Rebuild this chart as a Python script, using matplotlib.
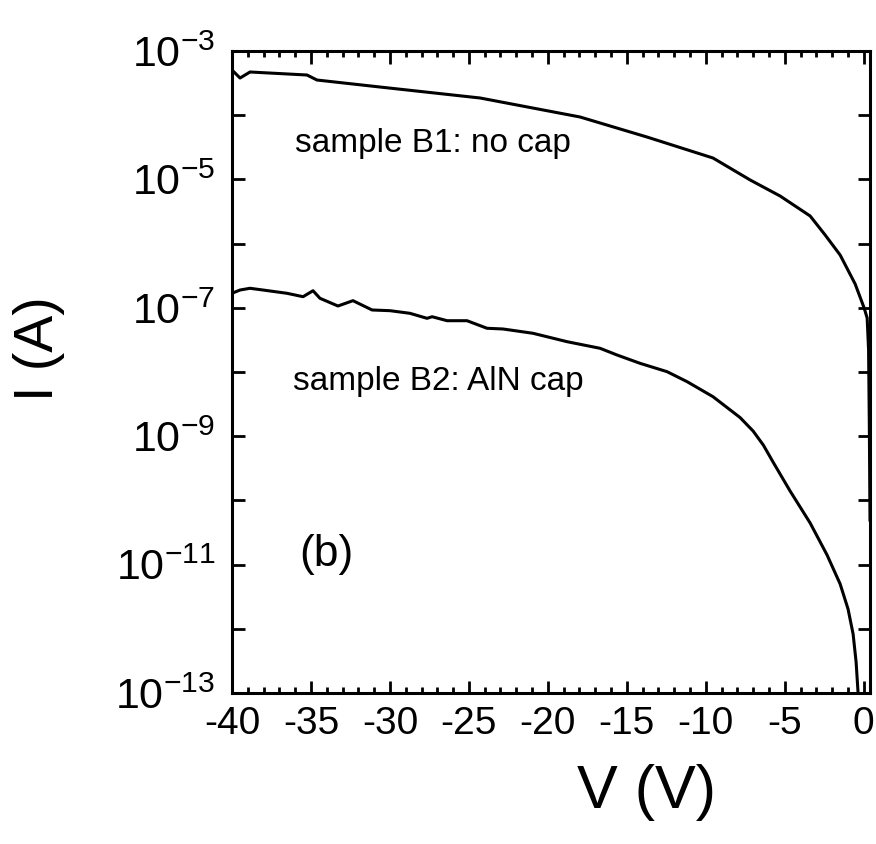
import numpy as np
import matplotlib.pyplot as plt
from matplotlib.ticker import MultipleLocator, NullLocator

plt.rcParams['font.family'] = ['Liberation Sans', 'DejaVu Sans']
plt.rcParams['mathtext.default'] = 'regular'
plt.rcParams['axes.unicode_minus'] = False

# sample B1: no cap  (V in volts, log10 of I in A)
v_b1 = [-40.0, -39.49, -38.86, -35.25, -34.62, -30.63, -24.29, -17.96, -13.72,
        -9.54, -7.19, -5.29, -3.39, -2.44, -1.49, -0.54, 0.03, 0.22, 0.31,
        0.36, 0.40]
log_i_b1 = [-3.296, -3.421, -3.327, -3.374, -3.452, -3.561, -3.732, -4.028, -4.340,
            -4.667, -5.009, -5.259, -5.570, -5.866, -6.178, -6.629, -7.003, -7.159,
            -7.657, -8.903, -10.305]

# sample B2: AlN cap
v_b2 = [-40.0, -39.49, -38.86, -38.04, -36.52, -35.50, -34.87, -34.43, -33.29,
        -32.34, -31.13, -29.99, -28.73, -27.65, -27.33, -26.38, -25.12, -23.85,
        -22.84, -20.94, -18.78, -16.69, -15.62, -14.16, -12.45, -11.18, -9.54,
        -7.83, -7.0, -6.35, -5.74, -4.66, -3.39, -2.32, -1.49, -0.99, -0.67,
        -0.48, -0.35]
log_i_b2 = [-6.774, -6.723, -6.696, -6.723, -6.774, -6.827, -6.734, -6.852, -6.972,
            -6.889, -7.034, -7.045, -7.086, -7.164, -7.139, -7.201, -7.201, -7.319,
            -7.330, -7.397, -7.528, -7.631, -7.735, -7.865, -7.995, -8.151, -8.385,
            -8.709, -8.920, -9.140, -9.402, -9.854, -10.352, -10.850, -11.302,
            -11.692, -12.081, -12.517, -13.016]

x_ticks = [-40, -35, -30, -25, -20, -15, -10, -5, 0]
y_exps = list(range(-13, -2))

fig = plt.figure(figsize=(8.76, 8.44), dpi=100)
ax = fig.add_axes([232 / 876, 1 - 693 / 844, 638 / 876, 642 / 844])

ax.semilogy(v_b1, 10.0 ** np.array(log_i_b1), color='black', lw=2.2)
ax.semilogy(v_b2, 10.0 ** np.array(log_i_b2), color='black', lw=2.2)

ax.set_xlim(-40, 0.4)
ax.set_ylim(1e-13, 1e-3)

ax.set_xticks(x_ticks)
ax.set_xticklabels([str(t) for t in x_ticks])
ax.xaxis.set_minor_locator(MultipleLocator(1))

ax.set_yticks([10.0 ** k for k in y_exps])
ax.set_yticklabels(['$10^{%d}$' % k if k % 2 else '' for k in y_exps])
ax.yaxis.set_minor_locator(NullLocator())

ax.tick_params(which='both', direction='in', top=True, right=True, width=2.0)
ax.tick_params(which='major', length=9, pad=9)
ax.tick_params(which='minor', length=4.5)
ax.tick_params(axis='x', labelsize=28)
ax.tick_params(axis='y', labelsize=31, pad=12)
for s in ax.spines.values():
    s.set_linewidth(2.2)

ax.text(-36.0, 10 ** -4.573, 'sample B1: no cap', fontsize=24, va='baseline')
ax.text(-36.14, 10 ** -8.282, 'sample B2: AlN cap', fontsize=24, va='baseline')
ax.text(-35.75, 10 ** -11.028, '(b)', fontsize=32, va='baseline')

ax.set_xlabel('V (V)', fontsize=44)
ax.xaxis.set_label_coords(0.649, -0.11)
ax.set_ylabel('I (A)', fontsize=40)
ax.yaxis.set_label_coords(-0.262, 0.537)

fig.savefig('out.png', dpi=100)
